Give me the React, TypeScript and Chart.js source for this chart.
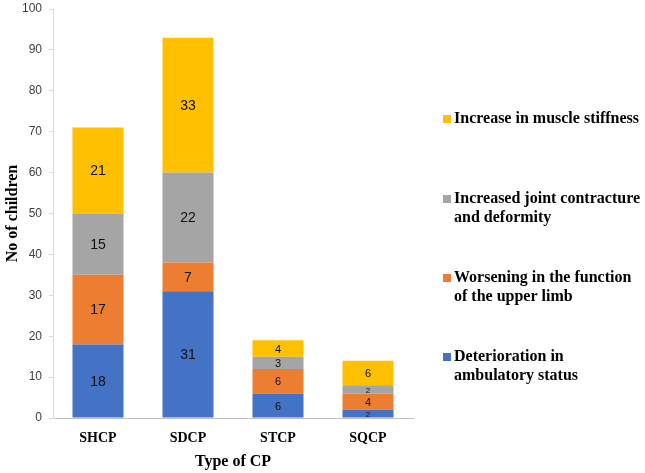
import React, { useEffect, useRef } from "react";
import { Chart, registerables } from "chart.js";

Chart.register(...registerables);

const categories = ["SHCP", "SDCP", "STCP", "SQCP"];
const seriesLabels = [
  "Deterioration in ambulatory status",
  "Worsening in the function of the upper limb",
  "Increased joint contracture and deformity",
  "Increase in muscle stiffness",
];
const legendLines = [
  ["Deterioration in", "ambulatory status"],
  ["Worsening in the function", "of the upper limb"],
  ["Increased joint contracture", "and deformity"],
  ["Increase in muscle stiffness"],
];
const ambulatory = [18, 31, 6, 2];
const upperLimb = [17, 7, 6, 4];
const contracture = [15, 22, 3, 2];
const stiffness = [21, 33, 4, 6];
const colors = ["#4472C4", "#ED7D31", "#A5A5A5", "#FFC000"];
const yTicks = [0, 10, 20, 30, 40, 50, 60, 70, 80, 90, 100];

const labelPlugin = {
  id: "segLabels",
  afterDatasetsDraw(chart: any) {
    const ctx = chart.ctx;
    ctx.save();
    ctx.textAlign = "center";
    ctx.textBaseline = "middle";
    ctx.fillStyle = "#111";
    chart.data.datasets.forEach((ds: any, i: number) => {
      const meta = chart.getDatasetMeta(i);
      meta.data.forEach((bar: any, j: number) => {
        const h = Math.abs(bar.base - bar.y);
        const size = h < 12 ? 8 : h < 26 ? 11 : 14;
        ctx.font = `${size}px "Liberation Sans", Arial, sans-serif`;
        ctx.fillText(String(ds.data[j]), bar.x, (bar.y + bar.base) / 2 + 1);
      });
    });
    ctx.restore();
  },
};

const legendPlugin = {
  id: "sideLegend",
  afterDraw(chart: any) {
    const ctx = chart.ctx;
    ctx.save();
    const firstY = [357, 278, 199, 119];
    ctx.font = 'bold 16px "Liberation Serif", "Times New Roman", serif';
    ctx.textBaseline = "middle";
    ctx.textAlign = "left";
    chart.data.datasets.forEach((ds: any, i: number) => {
      const y0 = firstY[i];
      ctx.fillStyle = ds.backgroundColor;
      ctx.fillRect(443, y0 - 4, 8, 8);
      ctx.fillStyle = "#000";
      legendLines[i].forEach((line: string, k: number) => {
        ctx.fillText(line, 454, y0 + k * 19);
      });
    });
    ctx.restore();
  },
};

export default function App() {
  const ref = useRef<HTMLCanvasElement>(null);
  useEffect(() => {
    if (!ref.current) return;
    const chart = new Chart(ref.current, {
      type: "bar",
      data: {
        labels: categories,
        datasets: [ambulatory, upperLimb, contracture, stiffness].map((d, i) => ({
          label: seriesLabels[i],
          data: d,
          backgroundColor: colors[i],
          barPercentage: 0.567,
          categoryPercentage: 1,
        })),
      },
      options: {
        responsive: false,
        animation: false,
        layout: { padding: { left: 0, right: 232, top: 9, bottom: 0 } },
        plugins: { legend: { display: false }, tooltip: { enabled: false } },
        scales: {
          x: {
            stacked: true,
            grid: { display: false, drawTicks: false },
            border: { display: true, color: "#BFBFBF", width: 1 },
            ticks: {
              padding: 12,
              color: "#000",
              font: { family: '"Liberation Serif", "Times New Roman", serif', size: 14, weight: "bold" },
            },
            title: {
              display: true,
              text: "Type of CP",
              color: "#000",
              padding: { top: 3, bottom: 2 },
              font: { family: '"Liberation Serif", "Times New Roman", serif', size: 16, weight: "bold" },
            },
            afterFit(scale: any) {
              scale.height = 55;
              scale.paddingLeft = 0;
              scale.paddingRight = 0;
            },
          },
          y: {
            stacked: true,
            min: 0,
            max: 100,
            afterBuildTicks(scale: any) {
              scale.ticks = yTicks.map((v) => ({ value: v }));
            },
            grid: { display: true, drawOnChartArea: false, drawTicks: true, tickLength: 4, color: "#D9D9D9" },
            border: { display: true, color: "#D9D9D9", width: 1 },
            ticks: {
              padding: 7,
              color: "#404040",
              font: { family: '"Liberation Sans", Arial, sans-serif', size: 12 },
            },
            title: {
              display: true,
              text: "No of children",
              color: "#000",
              padding: { top: 3, bottom: 2 },
              font: { family: '"Liberation Serif", "Times New Roman", serif', size: 16, weight: "bold" },
            },
            afterFit(scale: any) {
              scale.width = 53;
              scale.paddingTop = 0;
              scale.paddingBottom = 0;
            },
          },
        },
      },
      plugins: [labelPlugin, legendPlugin],
    });
    return () => chart.destroy();
  }, []);
  return (
    <div style={{ position: "fixed", left: 0, top: 0, width: 645, height: 473, background: "#fff" }}>
      <canvas ref={ref} width={645} height={473} style={{ display: "block" }} />
    </div>
  );
}
